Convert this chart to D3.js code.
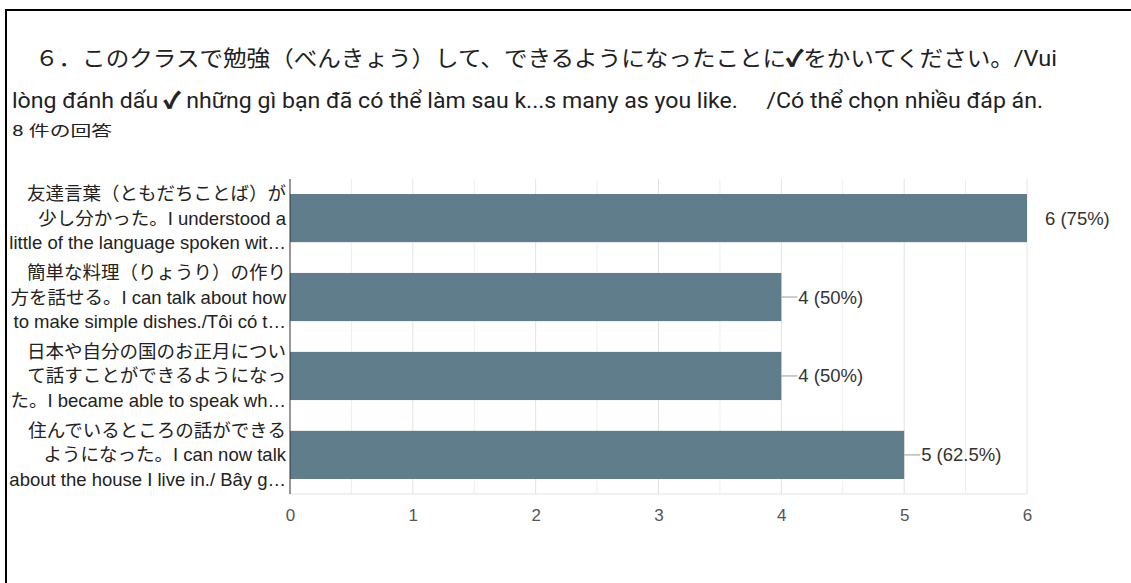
<!DOCTYPE html>
<html><head><meta charset="utf-8">
<script src="https://cdn.jsdelivr.net/npm/d3@7"></script>
<style>
html,body{margin:0;padding:0;background:#fff;}
svg{display:block;}
text{white-space:pre;}
</style></head>
<body>
<svg id="chart" width="1131" height="583"></svg>
<script>
const titleLines = [
  "６．このクラスで勉強（べんきょう）して、できるようになったことに✓をかいてください。/Vui",
  "lòng đánh dấu ✓ những gì bạn đã có thể làm sau k...s many as you like.     /Có thể chọn nhiều đáp án."
];
const subtitle = "8 件の回答";
const categories = [
  ["友達言葉（ともだちことば）が", "少し分かった。I understood a", "little of the language spoken wit…"],
  ["簡単な料理（りょうり）の作り", "方を話せる。I can talk about how", "to make simple dishes./Tôi có t…"],
  ["日本や自分の国のお正月につい", "て話すことができるようになっ", "た。I became able to speak wh…"],
  ["住んでいるところの話ができる", "ようになった。I can now talk", "about the house I live in./ Bây g…"]
];
const values = [6, 4, 4, 5];
const valueLabels = ["6 (75%)", "4 (50%)", "4 (50%)", "5 (62.5%)"];
const xTicks = [0, 1, 2, 3, 4, 5, 6];

const svg = d3.select("#chart");
const latin = "'Liberation Sans', Arial, 'Noto Sans CJK JP', sans-serif";
const titleFont = "Roboto, 'Noto Sans CJK JP', sans-serif";

// frame
svg.append("line").attr("x1", 6).attr("x2", 6).attr("y1", 9).attr("y2", 583).attr("stroke", "#000").attr("stroke-width", 2);
svg.append("line").attr("x1", 5).attr("x2", 1131).attr("y1", 10).attr("y2", 10).attr("stroke", "#000").attr("stroke-width", 2);

// title (check marks drawn bold as in the reference)
function titleText(str, xx, yy, len) {
  const t = svg.append("text").attr("x", xx).attr("y", yy).attr("font-family", titleFont)
    .attr("font-size", 22).attr("fill", "#202124")
    .attr("textLength", len).attr("lengthAdjust", "spacingAndGlyphs");
  str.split(/(✓)/).forEach(part => {
    if (!part) return;
    const sp = t.append("tspan").text(part);
    if (part === "✓") sp.attr("font-weight", "bold").attr("stroke", "#202124").attr("stroke-width", 0.8);
  });
}
titleText(titleLines[0], 35, 66, 1022);
titleText(titleLines[1], 12, 108, 1031);
svg.append("text").attr("x", 12).attr("y", 136).attr("font-family", titleFont)
  .attr("font-size", 15).attr("fill", "#202124")
  .attr("textLength", 100).attr("lengthAdjust", "spacingAndGlyphs").text(subtitle);

const x = d3.scaleLinear().domain([0, 6]).range([290, 1027]);
const y = d3.scaleBand().domain(d3.range(categories.length)).range([179, 494]).paddingInner(0.39).paddingOuter(0.19);

// grid
const minor = d3.range(0.5, 6, 1);
svg.append("g").selectAll("line").data(minor).join("line")
  .attr("x1", d => x(d)).attr("x2", d => x(d)).attr("y1", 179).attr("y2", 494)
  .attr("stroke", "#eeeeee").attr("stroke-width", 1);
svg.append("g").selectAll("line").data(xTicks.slice(1)).join("line")
  .attr("x1", d => x(d)).attr("x2", d => x(d)).attr("y1", 179).attr("y2", 494)
  .attr("stroke", "#e3e3e3").attr("stroke-width", 1);
svg.append("line").attr("x1", x(0)).attr("x2", x(6)).attr("y1", 494).attr("y2", 494).attr("stroke", "#e3e3e3");

// x axis
const xAxis = d3.axisBottom(x).tickValues(xTicks).tickSize(0).tickPadding(0).tickFormat(d3.format("d"));
const gx = svg.append("g").attr("transform", "translate(0,515)").call(xAxis);
gx.select(".domain").remove();
gx.selectAll("text").attr("font-family", latin).attr("font-size", 17).attr("fill", "#555").attr("dy", "0.35em");

// bars
svg.append("g").selectAll("rect").data(values).join("rect")
  .attr("x", x(0)).attr("y", (d, i) => y(i)).attr("width", d => x(d) - x(0)).attr("height", y.bandwidth())
  .attr("fill", "#607d8b");

// left axis line
svg.append("line").attr("x1", x(0)).attr("x2", x(0)).attr("y1", 179).attr("y2", 494).attr("stroke", "#333").attr("stroke-width", 1);

// value labels
values.forEach((v, i) => {
  const cy = y(i) + y.bandwidth() / 2;
  const x0 = x(v);
  if (v < 6) {
    svg.append("line").attr("x1", x0).attr("x2", x0 + 16).attr("y1", cy).attr("y2", cy).attr("stroke", "#999").attr("stroke-width", 1);
    svg.append("text").attr("x", x0 + 17).attr("y", cy).attr("dy", "0.35em").attr("font-family", latin)
      .attr("font-size", 18.5).attr("fill", "#333").text(valueLabels[i]);
  } else {
    svg.append("text").attr("x", x0 + 18).attr("y", cy).attr("dy", "0.35em").attr("font-family", latin)
      .attr("font-size", 18.5).attr("fill", "#333").text(valueLabels[i]);
  }
});

// category labels
categories.forEach((lines, i) => {
  const cy = y(i) + y.bandwidth() / 2;
  const t = svg.append("text").attr("text-anchor", "end").attr("font-family", latin)
    .attr("font-size", 18.5).attr("fill", "#222");
  lines.forEach((ln, k) => {
    t.append("tspan").attr("x", 286).attr("y", cy + (k - 1) * 24.5).attr("dy", "0.35em").text(ln);
  });
});
</script>
</body></html>
